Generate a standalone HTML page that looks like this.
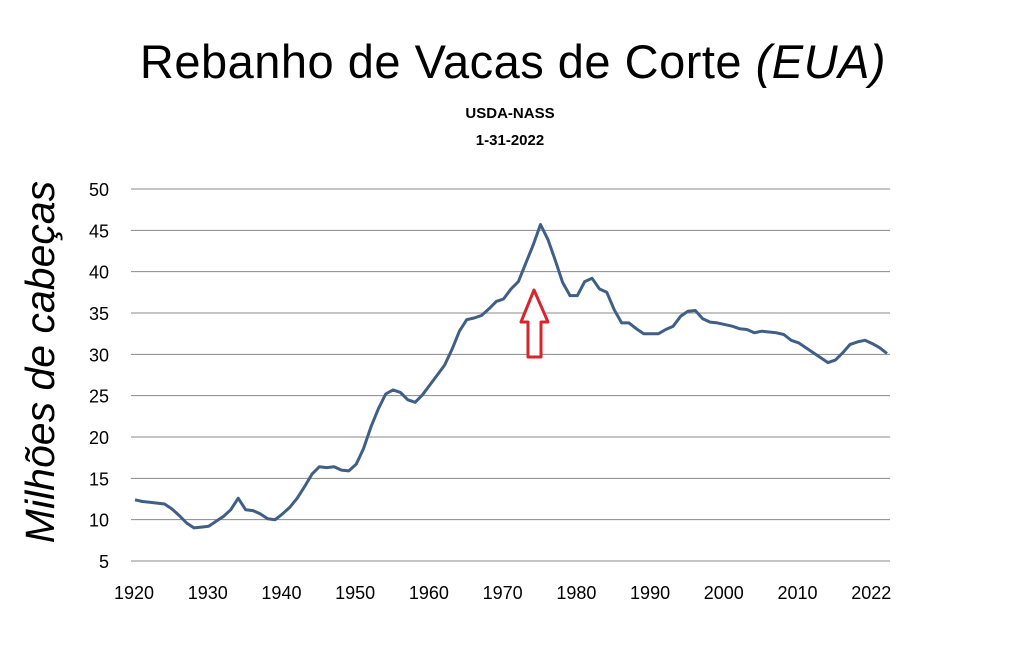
<!DOCTYPE html>
<html><head><meta charset="utf-8"><style>
body{margin:0;background:#fff;font-family:"Liberation Sans",sans-serif}
</style></head><body>
<svg width="1010" height="659" xmlns="http://www.w3.org/2000/svg">
<text x="513" y="78" text-anchor="middle" font-size="47" letter-spacing="0.5" fill="#000">Rebanho de Vacas de Corte <tspan font-style="italic">(EUA)</tspan></text>
<text x="510" y="118" text-anchor="middle" font-size="15" font-weight="bold">USDA-NASS</text>
<text x="510" y="145" text-anchor="middle" font-size="15" font-weight="bold">1-31-2022</text>
<text transform="translate(54,362) rotate(-90)" text-anchor="middle" font-size="41" font-style="italic">Milhões de cabeças</text>
<g id="grid"></g><g id="ylabels"></g><g id="xlabels"></g>
<path id="line" fill="none" stroke="#3f5f87" stroke-width="3" stroke-linejoin="round"/>
<path d="M534,290 L548,322 L541,322 L541,357 L528,357 L528,322 L521,322 Z" fill="#fff" stroke="#d6262b" stroke-width="3" stroke-linejoin="round"/>
</svg>
<script>
const years=[];for(let y=1920;y<=2022;y++)years.push(y);
const values=[12.4,12.2,12.1,12.0,11.9,11.3,10.5,9.6,9.0,9.1,9.2,9.8,10.4,11.2,12.6,11.2,11.1,10.7,10.1,10.0,10.7,11.5,12.6,14.0,15.5,16.4,16.3,16.4,16.0,15.9,16.7,18.6,21.2,23.4,25.2,25.7,25.4,24.5,24.2,25.1,26.3,27.5,28.7,30.6,32.8,34.2,34.4,34.7,35.5,36.4,36.7,37.9,38.8,41.0,43.2,45.7,43.9,41.4,38.7,37.1,37.1,38.8,39.2,37.9,37.5,35.4,33.8,33.8,33.1,32.5,32.5,32.5,33.0,33.4,34.6,35.2,35.3,34.3,33.9,33.8,33.6,33.4,33.1,33.0,32.6,32.8,32.7,32.6,32.4,31.7,31.4,30.8,30.2,29.6,29.0,29.3,30.2,31.2,31.5,31.7,31.3,30.8,30.1];
const yTicks=[5,10,15,20,25,30,35,40,45,50];
const xTickYears=[1920,1930,1940,1950,1960,1970,1980,1990,2000,2010,2020];
const xTickLabels=["1920","1930","1940","1950","1960","1970","1980","1990","2000","2010","2022"];
const NS="http://www.w3.org/2000/svg";
const X=y=>135+(y-1920)*(752/102);
const Y=v=>561-(v-5)*(372/45);
function mk(t,a,p){const e=document.createElementNS(NS,t);for(const k in a)e.setAttribute(k,a[k]);p.appendChild(e);return e;}
const g=document.getElementById('grid'),yl=document.getElementById('ylabels'),xl=document.getElementById('xlabels');
yTicks.forEach(v=>{
 const l=mk('line',{x1:131,x2:890,y1:Y(v),y2:Y(v),stroke:'#888','stroke-width':1},g);
 
 
 const t=mk('text',{x:109,y:Y(v)+7,'text-anchor':'end','font-size':18},yl);t.textContent=v;
 
 
});
xTickYears.forEach((y,i)=>{
 const t=mk('text',{x:X(y)-1,y:599,'text-anchor':'middle','font-size':18},xl);t.textContent=xTickLabels[i];
 
 
});
document.getElementById('line').setAttribute('d',values.map((v,i)=>(i?'L':'M')+X(years[i]).toFixed(1)+','+Y(v).toFixed(1)).join(' '));
</script>
</body></html>
